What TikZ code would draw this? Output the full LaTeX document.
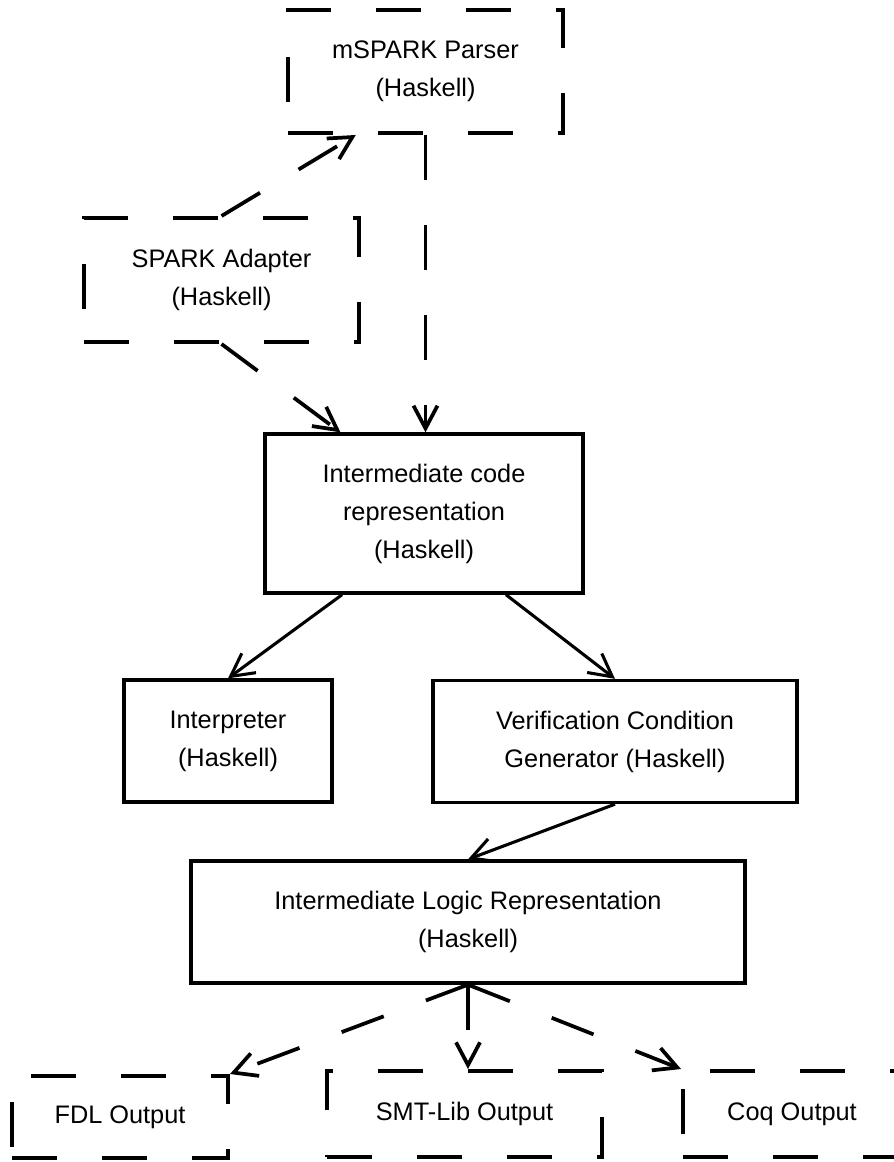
\documentclass[tikz,border=0pt]{standalone}
\usepackage{fontspec}
\setmainfont{Liberation Sans}
\usetikzlibrary{arrows.meta,calc}

\tikzstyle{block} = [draw, line width=2.5pt, align=center, inner sep=0pt, font=\fontsize{19}{28.5}\selectfont]
\tikzstyle{plan} = [block, line width=3pt, dash pattern=on 33.75pt off 33.75pt]
\tikzstyle{flow} = [line width=2.3pt, -{Straight Barb[length=17pt,width=18pt]}]
\tikzstyle{maybe} = [flow, line width=2.8pt, dash pattern=on 33.75pt off 33.75pt]

\begin{document}
\begin{tikzpicture}[x=0.75pt,y=-0.75pt]
\useasboundingbox (0,0) rectangle (893,1162);
%front ends
\node[plan, minimum width=206.25pt, minimum height=92.25pt] (parser) at (425.5,71.5) {mSPARK Parser\\(Haskell)};
\node[plan, minimum width=206.25pt, minimum height=93pt] (adapter) at (221.5,280) {SPARK Adapter\\(Haskell)};
%core
\node[block, minimum width=238.5pt, minimum height=119.25pt] (icr) at (424,513.5) {Intermediate code\\representation\\(Haskell)};
\node[block, minimum width=156pt, minimum height=91.5pt] (interp) at (228,741) {Interpreter\\(Haskell)};
\node[block, minimum width=273pt, minimum height=91.5pt] (vcg) at (615,741.5) {Verification Condition\\Generator (Haskell)};
\node[block, minimum width=415.5pt, minimum height=91.5pt] (ilr) at (468,922) {Intermediate Logic Representation\\(Haskell)};
%back ends
\node[plan, minimum width=162pt, minimum height=61.5pt] (fdl) at (120,1117) {FDL Output};
\node[plan, minimum width=206.25pt, minimum height=64.5pt] (smt) at (464.5,1114) {SMT-Lib Output};
\node[plan, minimum width=163.5pt, minimum height=64.5pt] (coq) at (792,1114) {Coq Output};

\draw[maybe] (adapter.north) -- ($(parser.south west)!.25!(parser.south east)$);
\draw[maybe] (adapter.south) -- ($(icr.north west)!.24!(icr.north east)$);
\draw[maybe] (parser.south) -- (parser.south |- icr.north);
\draw[flow] ($(icr.south west)!.245!(icr.south east)$) -- (interp.north);
\draw[flow] ($(icr.south west)!.755!(icr.south east)$) -- (vcg.north);
\draw[flow] (vcg.south) -- (ilr.north);
\draw[maybe] (ilr.south) -- (fdl.north east);
\draw[maybe] (ilr.south) -- (ilr.south |- smt.north);
\draw[maybe] (ilr.south) -- (coq.north west);
\end{tikzpicture}
\end{document}
